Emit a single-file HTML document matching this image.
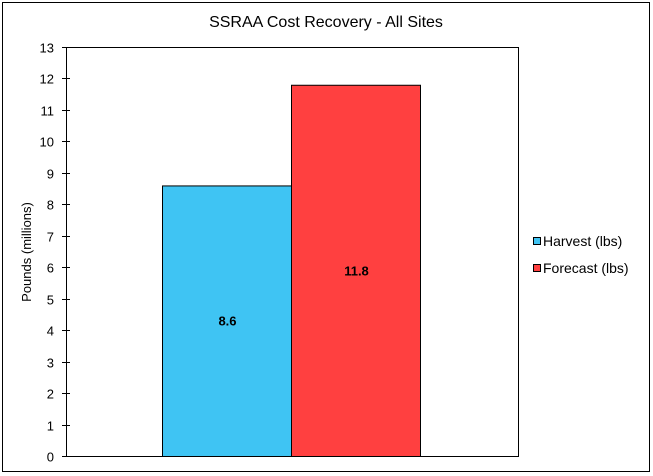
<!DOCTYPE html>
<html><head><meta charset="utf-8"><style>
body{margin:0;background:#fff;}
svg{display:block;font-family:"Liberation Sans",Arial,sans-serif;}
</style></head><body>
<svg id="chart" width="653" height="476" xmlns="http://www.w3.org/2000/svg">
<rect x="2.5" y="2.5" width="647" height="469" fill="#fff" stroke="#000" stroke-width="1"/>
<text x="326" y="27" text-anchor="middle" font-size="16">SSRAA Cost Recovery - All Sites</text>
<rect x="66.5" y="47.5" width="452" height="409" fill="#fff" stroke="#000" stroke-width="1"/>
<text transform="translate(31,252) rotate(-90)" text-anchor="middle" font-size="13">Pounds (millions)</text>
<g id="ticks"></g>
<g id="bars"></g>
<g>
<rect x="533.5" y="237.5" width="7" height="7" fill="#3fc4f3" stroke="#000"/>
<text x="543" y="246" font-size="14">Harvest (lbs)</text>
<rect x="533.5" y="264.5" width="7" height="7" fill="#ff4040" stroke="#000"/>
<text x="543" y="273" font-size="14">Forecast (lbs)</text>
</g>
</svg>
<script>
const categories = ["Harvest (lbs)", "Forecast (lbs)"];
const values = [8.6, 11.8];
const labels = ["8.6", "11.8"];
const colors = ["#3fc4f3", "#ff4040"];
const yTicks = [0,1,2,3,4,5,6,7,8,9,10,11,12,13];
const NS = "http://www.w3.org/2000/svg";
const y0 = 456, y1 = 47, yMax = 13;
function yScale(v){ return y0 - v/yMax*(y0-y1); }
const barLeft = 162, barW = 129;
function xScale(i){ return barLeft + i*barW; }
const tg = document.getElementById("ticks");
yTicks.forEach(t=>{
  const y = Math.round(yScale(t))+0.5;
  const l = document.createElementNS(NS,"line");
  
  
  l.setAttribute("x1",62); l.setAttribute("x2",70); l.setAttribute("y1",y); l.setAttribute("y2",y);
  l.setAttribute("stroke","#000");
  tg.appendChild(l);
  const tx = document.createElementNS(NS,"text");
  
  
  tx.setAttribute("x",54); tx.setAttribute("y",y+5); tx.setAttribute("text-anchor","end");
  tx.setAttribute("font-size","13"); tx.textContent = t;
  tg.appendChild(tx);
});
const bg = document.getElementById("bars");
values.forEach((v,i)=>{
  const r = document.createElementNS(NS,"rect");
  
  
  const yt = yScale(v);
  r.setAttribute("x", xScale(i)+0.5); r.setAttribute("y", yt+0.5);
  r.setAttribute("width", barW); r.setAttribute("height", y0-yt);
  r.setAttribute("fill", colors[i]); r.setAttribute("stroke","#000");
  bg.appendChild(r);
  const t = document.createElementNS(NS,"text");
  
  
  t.setAttribute("x", xScale(i)+barW/2+1); t.setAttribute("y", (yt+y0)/2+5);
  t.setAttribute("text-anchor","middle"); t.setAttribute("font-size","13"); t.setAttribute("font-weight","bold");
  t.textContent = labels[i];
  bg.appendChild(t);
});
</script>
</body></html>
